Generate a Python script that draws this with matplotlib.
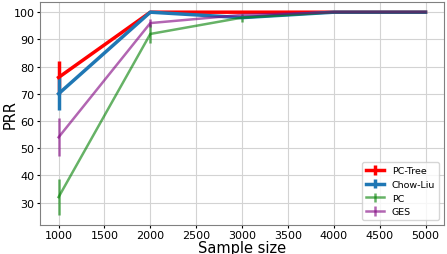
import matplotlib.pyplot as plt

sizes = [1000, 2000, 3000, 4000, 5000]

pctree = [76, 100, 100, 100, 100]
pctree_err = [6, 0, 0, 0, 0]
chowliu = [70, 100, 98, 100, 100]
chowliu_err = [6, 0, 0, 0, 0]
pc = [32, 92, 98, 100, 100]
pc_err = [6.5, 3.5, 1.5, 0, 0]
ges = [54, 96, 99, 100, 100]
ges_err = [7, 1.5, 0, 0, 0]

fig, ax = plt.subplots(figsize=(4.47, 2.55), dpi=100)

ax.errorbar(sizes, pctree, yerr=pctree_err, color="red", linewidth=2.5, label="PC-Tree")
ax.errorbar(sizes, chowliu, yerr=chowliu_err, color="tab:blue", linewidth=2.5, label="Chow-Liu")
ax.errorbar(sizes, pc, yerr=pc_err, color="green", linewidth=1.8, alpha=0.6, label="PC")
ax.errorbar(sizes, ges, yerr=ges_err, color="purple", linewidth=1.8, alpha=0.6, label="GES")

ax.set_xlabel("Sample size", fontsize=10.5, labelpad=0)
ax.set_ylabel("PRR", fontsize=10.5)
ax.yaxis.set_label_coords(-0.055, 0.5)
ax.tick_params(labelsize=8, pad=1.5, length=2.5)
ax.set_xticks([1000, 1500, 2000, 2500, 3000, 3500, 4000, 4500, 5000])
ax.set_yticks([30, 40, 50, 60, 70, 80, 90, 100])
ax.grid(True, color="lightgray")
for s in ax.spines.values():
    s.set_color("gray")
ax.legend(loc="lower right", fontsize=6.8)

fig.subplots_adjust(left=0.09, right=0.993, top=0.988, bottom=0.114)
fig.savefig("out.png")
